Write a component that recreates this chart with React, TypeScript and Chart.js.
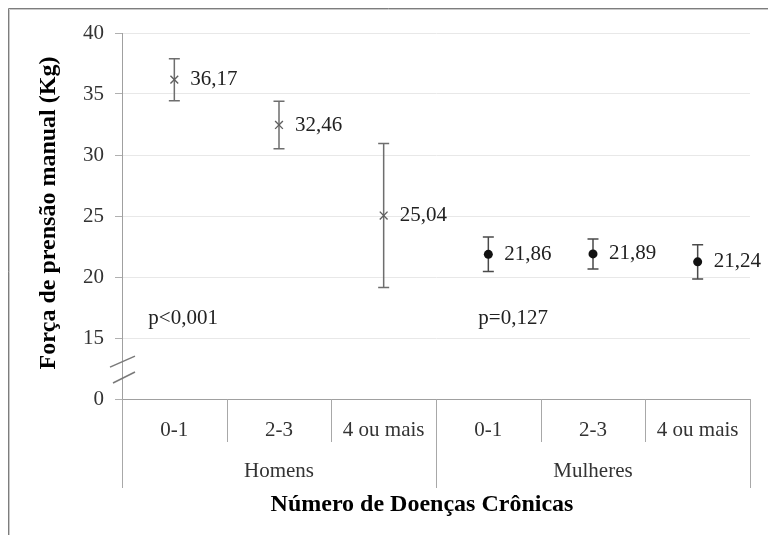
import React, { useEffect, useRef } from 'react';
import { Chart, registerables } from 'chart.js';

Chart.register(...registerables);

const categories = ['0-1', '2-3', '4 ou mais', '0-1', '2-3', '4 ou mais'];
const groups = ['Homens', 'Mulheres'];
const menMeans = [36.17, 32.46, 25.04];
const menErrors = [1.72, 1.95, 5.9];
const womenMeans = [21.86, 21.89, 21.24];
const womenErrors = [1.41, 1.23, 1.4];
const pLabels = ['p<0,001', 'p=0,127'];
const yTickValues = [15, 20, 25, 30, 35, 40];
const yBreakLabel = '0';
const yTitle = 'Força de prensão manual (Kg)';
const xTitle = 'Número de Doenças Crônicas';

const BREAK_AT = 10; // scale position standing in for 0 after the axis break
const SERIF = "'Liberation Serif', 'Times New Roman', serif";

const fmt = (v: number) => v.toFixed(2).replace('.', ',');

const menData = [...menMeans, null, null, null];
const womenData = [null, null, null, ...womenMeans];
const errData = [...menErrors, ...womenErrors];
const meanData = [...menMeans, ...womenMeans];

const overlay = {
  id: 'overlay',
  beforeDatasetsDraw(chart: any) {
    const { ctx } = chart;
    const x = chart.scales.x;
    const y = chart.scales.y;
    ctx.save();
    meanData.forEach((m, i) => {
      const px = x.getPixelForValue(i);
      const top = y.getPixelForValue(m + errData[i]);
      const bot = y.getPixelForValue(m - errData[i]);
      ctx.strokeStyle = i < 3 ? '#6e6e6e' : '#4a4a4a';
      ctx.lineWidth = 1.5;
      ctx.beginPath();
      ctx.moveTo(px, top);
      ctx.lineTo(px, bot);
      ctx.moveTo(px - 5.5, top);
      ctx.lineTo(px + 5.5, top);
      ctx.moveTo(px - 5.5, bot);
      ctx.lineTo(px + 5.5, bot);
      ctx.stroke();
    });
    ctx.restore();
  },
  afterDraw(chart: any) {
    const { ctx, chartArea } = chart;
    const x = chart.scales.x;
    const y = chart.scales.y;
    const W = chart.width;
    const H = chart.height;
    ctx.save();

    // outer frame (top and left)
    ctx.strokeStyle = '#7d7d7d';
    ctx.lineWidth = 1;
    ctx.beginPath();
    ctx.moveTo(8.5, H);
    ctx.lineTo(8.5, 8.5);
    ctx.lineTo(W, 8.5);
    ctx.stroke();
    ctx.strokeStyle = '#c9c9c9';
    ctx.beginPath();
    ctx.moveTo(9.5, H);
    ctx.lineTo(9.5, 9.5);
    ctx.lineTo(W, 9.5);
    ctx.stroke();

    // data labels
    ctx.fillStyle = '#222222';
    ctx.font = `21px ${SERIF}`;
    ctx.textAlign = 'left';
    ctx.textBaseline = 'middle';
    meanData.forEach((m, i) => {
      ctx.fillText(fmt(m), x.getPixelForValue(i) + 16, y.getPixelForValue(m));
    });

    // p-values
    ctx.fillText(pLabels[0], x.getPixelForValue(0) - 26, y.getPixelForValue(16.6));
    ctx.fillText(pLabels[1], x.getPixelForValue(3) - 10, y.getPixelForValue(16.6));

    // category dividers
    const bottom = chartArea.bottom;
    const step = (chartArea.right - chartArea.left) / categories.length;
    ctx.strokeStyle = '#a8a8a8';
    ctx.lineWidth = 1;
    ctx.beginPath();
    for (let i = 0; i <= categories.length; i++) {
      const bx = Math.round(chartArea.left + i * step) + 0.5;
      const long = i % 3 === 0;
      ctx.moveTo(bx, bottom);
      ctx.lineTo(bx, bottom + (long ? 89 : 43));
    }
    ctx.stroke();

    // group labels
    ctx.fillStyle = '#333333';
    ctx.textAlign = 'center';
    groups.forEach((g, gi) => {
      const cx = (x.getPixelForValue(gi * 3) + x.getPixelForValue(gi * 3 + 2)) / 2;
      ctx.fillText(g, cx, bottom + 72);
    });

    // axis break marks
    ctx.strokeStyle = '#7a7a7a';
    ctx.lineWidth = 1.5;
    const b1 = y.getPixelForValue(13.1);
    const b2 = y.getPixelForValue(11.8);
    const ax = chartArea.left;
    ctx.beginPath();
    ctx.moveTo(ax - 12, b1 + 6);
    ctx.lineTo(ax + 13, b1 - 5);
    ctx.moveTo(ax - 9, b2 + 6);
    ctx.lineTo(ax + 13, b2 - 5);
    ctx.stroke();

    // titles
    ctx.fillStyle = '#000000';
    ctx.font = `bold 24px ${SERIF}`;
    ctx.textAlign = 'center';
    ctx.textBaseline = 'middle';
    ctx.fillText(xTitle, 422, bottom + 106);
    ctx.translate(49, (chartArea.top + chartArea.bottom) / 2 - 3);
    ctx.rotate(-Math.PI / 2);
    ctx.fillText(yTitle, 0, 0);
    ctx.restore();
  },
};

export default function App() {
  const ref = useRef<HTMLCanvasElement | null>(null);
  useEffect(() => {
    const canvas = ref.current;
    if (!canvas) return;
    const chart = new Chart(canvas, {
      type: 'line',
      data: {
        labels: categories,
        datasets: [
          {
            label: 'Homens',
            data: menData,
            showLine: false,
            pointStyle: 'crossRot',
            pointRadius: 5.5,
            pointBorderWidth: 1.4,
            pointBorderColor: '#606060',
            pointBackgroundColor: '#606060',
          },
          {
            label: 'Mulheres',
            data: womenData,
            showLine: false,
            pointStyle: 'circle',
            pointRadius: 4.5,
            pointBorderWidth: 0,
            pointBackgroundColor: '#111111',
            pointBorderColor: '#111111',
          },
        ],
      },
      options: {
        animation: false,
        responsive: false,
        events: [],
        layout: { padding: { left: 30, top: 33, right: 18, bottom: 0 } },
        plugins: { legend: { display: false }, tooltip: { enabled: false } },
        scales: {
          x: {
            type: 'category',
            offset: true,
            grid: { display: false, drawTicks: false },
            border: { display: true, color: '#a0a0a0', width: 1 },
            ticks: {
              font: { family: SERIF, size: 21 },
              color: '#333333',
              padding: 19,
              maxRotation: 0,
              autoSkip: false,
            },
            afterFit: (s: any) => {
              s.height = 136;
            },
          },
          y: {
            type: 'linear',
            min: BREAK_AT,
            max: 40,
            afterBuildTicks: (s: any) => {
              s.ticks = [BREAK_AT, ...yTickValues].map((v) => ({ value: v }));
            },
            ticks: {
              font: { family: SERIF, size: 21 },
              color: '#333333',
              padding: 11,
              callback: (v: any) => (v === BREAK_AT ? yBreakLabel : String(v)),
            },
            grid: {
              color: '#e8e8e8',
              lineWidth: 1,
              drawTicks: true,
              tickLength: 7,
              tickColor: '#b0b0b0',
            },
            border: { display: true, color: '#a0a0a0', width: 1 },
            afterFit: (s: any) => {
              s.width = 92;
            },
          },
        },
      },
      plugins: [overlay],
    });
    return () => chart.destroy();
  }, []);
  return (
    <div style={{ position: 'fixed', left: 0, top: 0, width: 768, height: 535, background: '#ffffff' }}>
      <canvas ref={ref} width={768} height={535} style={{ display: 'block' }} />
    </div>
  );
}
